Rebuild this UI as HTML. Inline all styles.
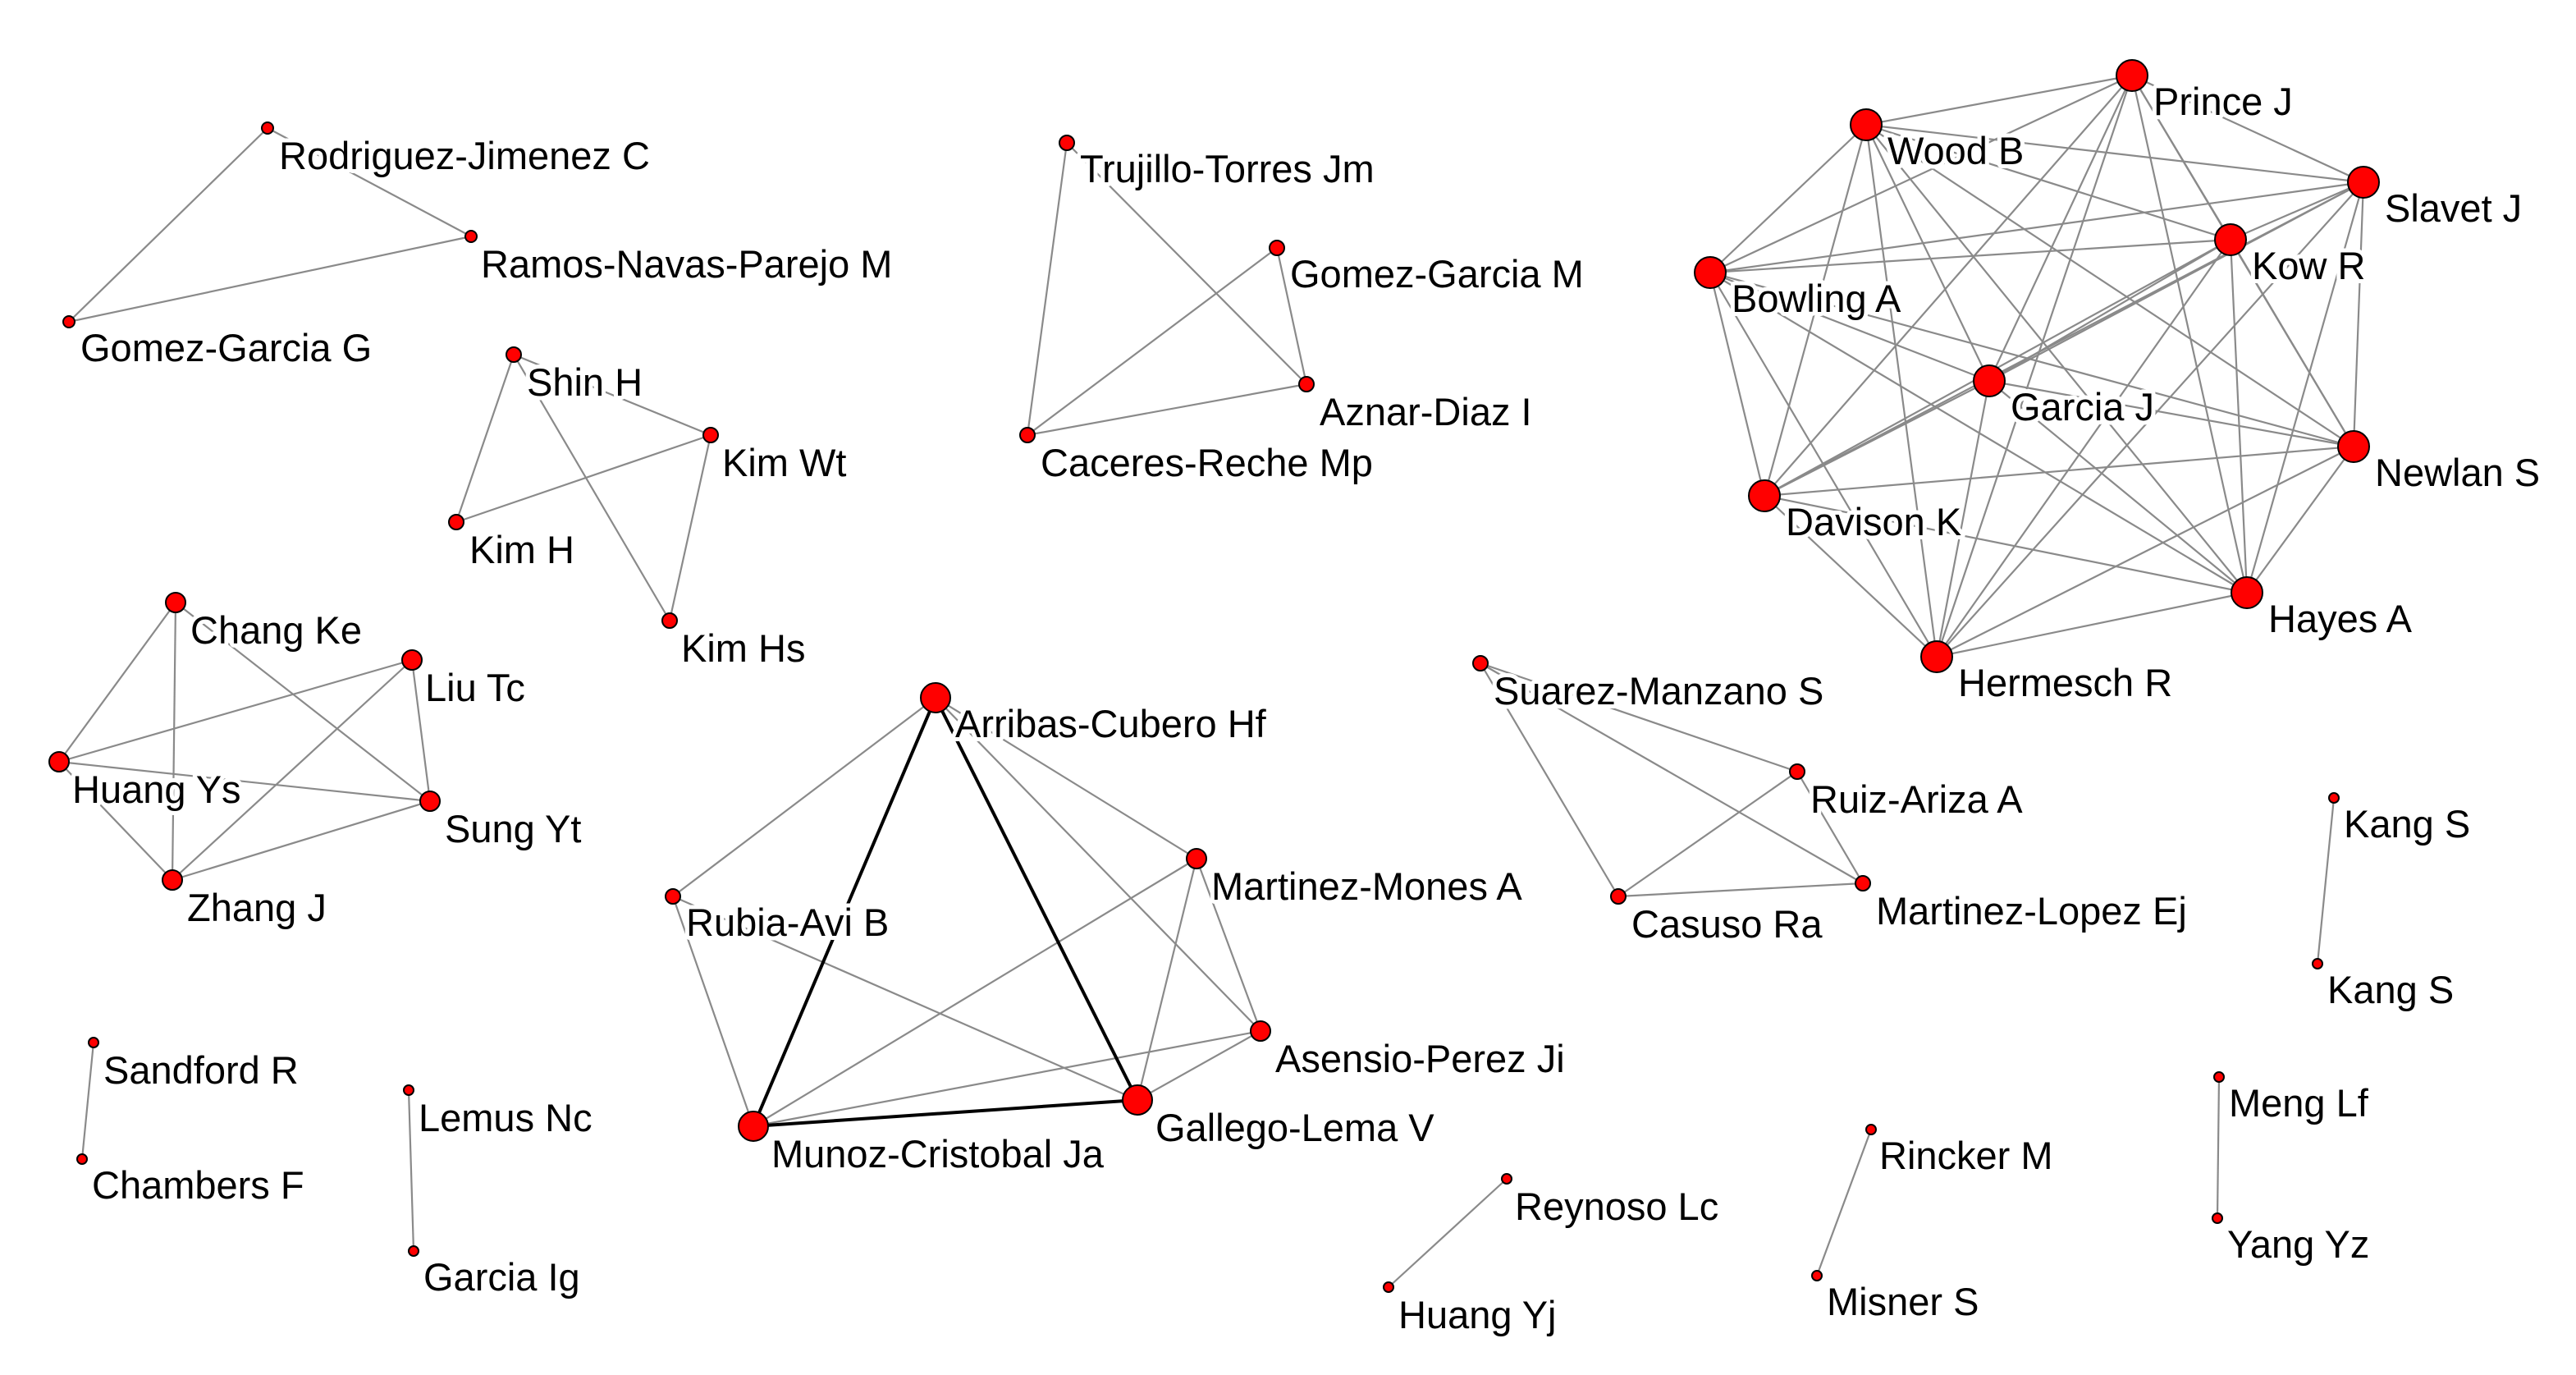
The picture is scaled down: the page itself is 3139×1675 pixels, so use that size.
<!DOCTYPE html>
<html><head><meta charset="utf-8"><style>
html,body{margin:0;padding:0;background:#fff;width:3139px;height:1675px;overflow:hidden}
svg{display:block}
text{font-family:"Liberation Sans",sans-serif;font-size:23.5px;fill:#000;paint-order:stroke;stroke:#fff;stroke-width:5px;stroke-linejoin:round}
line{stroke:#8a8a8a;stroke-width:1.1}
line.t{stroke:#000;stroke-width:2}
circle{fill:#f00;stroke:#000;stroke-width:1}
</style></head><body>
<svg id="s" width="3139" height="1675" viewBox="0 0 1569.5 837.5" xmlns="http://www.w3.org/2000/svg">
<g id="E">
<line x1="163" y1="78" x2="42" y2="196"/><line x1="287" y1="144" x2="42" y2="196"/><line x1="163" y1="78" x2="287" y2="144"/>
<line x1="313" y1="216" x2="433" y2="265"/><line x1="313" y1="216" x2="278" y2="318"/><line x1="313" y1="216" x2="408" y2="378"/><line x1="278" y1="318" x2="433" y2="265"/><line x1="433" y1="265" x2="408" y2="378"/>
<line x1="650" y1="87" x2="626" y2="265"/><line x1="650" y1="87" x2="796" y2="234"/><line x1="778" y1="151" x2="796" y2="234"/><line x1="778" y1="151" x2="626" y2="265"/><line x1="626" y1="265" x2="796" y2="234"/>
<line x1="107" y1="367" x2="36" y2="464"/><line x1="107" y1="367" x2="105" y2="536"/><line x1="107" y1="367" x2="262" y2="488"/><line x1="251" y1="402" x2="36" y2="464"/><line x1="251" y1="402" x2="262" y2="488"/><line x1="251" y1="402" x2="105" y2="536"/><line x1="36" y1="464" x2="262" y2="488"/><line x1="36" y1="464" x2="105" y2="536"/><line x1="105" y1="536" x2="262" y2="488"/>
<line x1="570" y1="425" x2="410" y2="546"/><line x1="570" y1="425" x2="729" y2="523"/><line x1="570" y1="425" x2="768" y2="628"/><line x1="410" y1="546" x2="459" y2="686"/><line x1="410" y1="546" x2="693" y2="670"/><line x1="729" y1="523" x2="459" y2="686"/><line x1="729" y1="523" x2="693" y2="670"/><line x1="729" y1="523" x2="768" y2="628"/><line x1="768" y1="628" x2="459" y2="686"/><line x1="768" y1="628" x2="693" y2="670"/>
<line class="t" x1="570" y1="425" x2="459" y2="686"/><line class="t" x1="570" y1="425" x2="693" y2="670"/><line class="t" x1="459" y1="686" x2="693" y2="670"/>
<line x1="902" y1="404" x2="986" y2="546"/><line x1="902" y1="404" x2="1095" y2="470"/><line x1="902" y1="404" x2="1135" y2="538"/><line x1="1095" y1="470" x2="986" y2="546"/><line x1="1095" y1="470" x2="1135" y2="538"/><line x1="986" y1="546" x2="1135" y2="538"/>
<line x1="1422" y1="486" x2="1412" y2="587"/><line x1="57" y1="635" x2="50" y2="706"/><line x1="249" y1="664" x2="252" y2="762"/><line x1="918" y1="718" x2="846" y2="784"/><line x1="1140" y1="688" x2="1107" y2="777"/><line x1="1352" y1="656" x2="1351" y2="742"/>
</g>
<g id="N">
<circle cx="163" cy="78" r="3.5"/><circle cx="287" cy="144" r="3.5"/><circle cx="42" cy="196" r="3.5"/>
<circle cx="313" cy="216" r="4.5"/><circle cx="433" cy="265" r="4.5"/><circle cx="278" cy="318" r="4.5"/><circle cx="408" cy="378" r="4.5"/>
<circle cx="650" cy="87" r="4.5"/><circle cx="778" cy="151" r="4.5"/><circle cx="796" cy="234" r="4.5"/><circle cx="626" cy="265" r="4.5"/>
<circle cx="107" cy="367" r="6"/><circle cx="251" cy="402" r="6"/><circle cx="36" cy="464" r="6"/><circle cx="262" cy="488" r="6"/><circle cx="105" cy="536" r="6"/>
<circle cx="570" cy="425" r="9"/><circle cx="410" cy="546" r="4.5"/><circle cx="729" cy="523" r="6"/><circle cx="768" cy="628" r="6"/><circle cx="459" cy="686" r="9"/><circle cx="693" cy="670" r="9"/>
<circle cx="902" cy="404" r="4.5"/><circle cx="1095" cy="470" r="4.5"/><circle cx="986" cy="546" r="4.5"/><circle cx="1135" cy="538" r="4.5"/>
<circle cx="1422" cy="486" r="3"/><circle cx="1412" cy="587" r="3"/><circle cx="57" cy="635" r="3"/><circle cx="50" cy="706" r="3"/><circle cx="249" cy="664" r="3"/><circle cx="252" cy="762" r="3"/><circle cx="918" cy="718" r="3"/><circle cx="846" cy="784" r="3"/><circle cx="1140" cy="688" r="3"/><circle cx="1107" cy="777" r="3"/><circle cx="1352" cy="656" r="3"/><circle cx="1351" cy="742" r="3"/>
</g>
<g id="L">
<text x="170" y="103">Rodriguez-Jimenez C</text><text x="293" y="169">Ramos-Navas-Parejo M</text><text x="49" y="220">Gomez-Garcia G</text>
<text x="321" y="241">Shin H</text><text x="440" y="290">Kim Wt</text><text x="286" y="343">Kim H</text><text x="415" y="403">Kim Hs</text>
<text x="658" y="111">Trujillo-Torres Jm</text><text x="786" y="175">Gomez-Garcia M</text><text x="804" y="259">Aznar-Diaz I</text><text x="634" y="290">Caceres-Reche Mp</text>
<text x="116" y="392">Chang Ke</text><text x="259" y="427">Liu Tc</text><text x="44" y="489">Huang Ys</text><text x="271" y="513">Sung Yt</text><text x="114" y="561">Zhang J</text>
<text x="582" y="449">Arribas-Cubero Hf</text><text x="418" y="570">Rubia-Avi B</text><text x="738" y="548">Martinez-Mones A</text><text x="777" y="653">Asensio-Perez Ji</text><text x="470" y="711">Munoz-Cristobal Ja</text><text x="704" y="695">Gallego-Lema V</text>
<text x="910" y="429">Suarez-Manzano S</text><text x="1103" y="495">Ruiz-Ariza A</text><text x="994" y="571">Casuso Ra</text><text x="1143" y="563">Martinez-Lopez Ej</text>
<text x="1428" y="510">Kang S</text><text x="1418" y="611">Kang S</text><text x="63" y="660">Sandford R</text><text x="56" y="730">Chambers F</text><text x="255" y="689">Lemus Nc</text><text x="258" y="786">Garcia Ig</text><text x="923" y="743">Reynoso Lc</text><text x="852" y="809">Huang Yj</text><text x="1145" y="712">Rincker M</text><text x="1113" y="801">Misner S</text><text x="1358" y="680">Meng Lf</text><text x="1357" y="766">Yang Yz</text>
</g>
</svg>
<script>
var s=document.getElementById('s'),E=document.getElementById('E'),N=document.getElementById('N'),L=document.getElementById('L');
var ns="http://www.w3.org/2000/svg";
var P=[["Prince J",1299,46],["Wood B",1137,76],["Slavet J",1440,111],["Kow R",1359,146],["Bowling A",1042,166],["Garcia J",1212,232],["Newlan S",1434,272],["Davison K",1075,302],["Hayes A",1369,361],["Hermesch R",1180,400]];
for(var i=0;i<P.length;i++)for(var j=i+1;j<P.length;j++){var l=document.createElementNS(ns,'line');l.setAttribute('x1',P[i][1]);l.setAttribute('y1',P[i][2]);l.setAttribute('x2',P[j][1]);l.setAttribute('y2',P[j][2]);E.appendChild(l);}
P.forEach(function(p){var c=document.createElementNS(ns,'circle');c.setAttribute('cx',p[1]);c.setAttribute('cy',p[2]);c.setAttribute('r',9.5);N.appendChild(c);
var t=document.createElementNS(ns,'text');t.setAttribute('x',p[1]+13);t.setAttribute('y',p[2]+24);t.textContent=p[0];L.appendChild(t);});
</script>
</body></html>
